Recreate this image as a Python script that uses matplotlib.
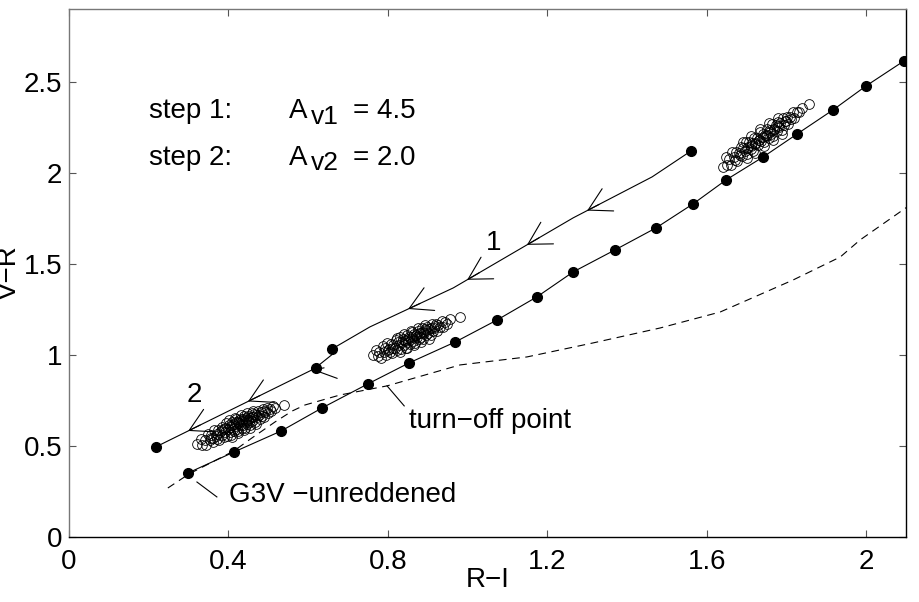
import matplotlib
matplotlib.use('Agg')
import matplotlib.pyplot as plt
import numpy as np

plt.rcParams['font.family'] = ['Liberation Sans', 'DejaVu Sans']

# unreddened G3V -> later sequence (filled dots)
seq_x = [0.299, 0.414, 0.532, 0.635, 0.750, 0.853, 0.969, 1.074, 1.174, 1.265,
         1.370, 1.473, 1.566, 1.649, 1.742, 1.827, 1.917, 2.000, 2.095]
seq_y = [0.352, 0.467, 0.582, 0.709, 0.841, 0.956, 1.071, 1.192, 1.319, 1.456,
         1.577, 1.698, 1.830, 1.962, 2.088, 2.214, 2.346, 2.478, 2.615]

# isochrone (dashed)
iso_x = [0.248, 0.301, 0.414, 0.459, 0.517, 0.560, 0.592, 0.680, 0.798, 0.981,
         1.149, 1.315, 1.483, 1.634, 1.817, 1.935, 1.985, 2.103]
iso_y = [0.269, 0.346, 0.473, 0.544, 0.632, 0.692, 0.725, 0.780, 0.830, 0.945,
         0.989, 1.066, 1.148, 1.236, 1.412, 1.538, 1.632, 1.813]

# reddening tracks
track1_x = [0.660, 0.755, 0.964, 1.265, 1.463, 1.561]
track1_y = [1.033, 1.154, 1.368, 1.753, 1.978, 2.121]
track2_x = [0.218, 0.620]
track2_y = [0.495, 0.929]
arrows1_x = [1.300, 1.149, 0.999, 0.851]
arrows2_x = [0.610, 0.449, 0.299]

# observed clusters (open circles)
c1_x = [0.321, 0.330, 0.334, 0.340, 0.344, 0.349, 0.353, 0.357, 0.361, 0.364,
        0.368, 0.371, 0.374, 0.377, 0.380, 0.383, 0.385, 0.388, 0.390, 0.392,
        0.395, 0.397, 0.399, 0.401, 0.403, 0.405, 0.407, 0.409, 0.411, 0.413,
        0.415, 0.417, 0.419, 0.421, 0.423, 0.425, 0.427, 0.429, 0.431, 0.433,
        0.435, 0.437, 0.439, 0.441, 0.443, 0.445, 0.447, 0.449, 0.451, 0.453,
        0.455, 0.458, 0.460, 0.462, 0.465, 0.467, 0.470, 0.472, 0.475, 0.478,
        0.481, 0.484, 0.487, 0.490, 0.493, 0.497, 0.500, 0.504, 0.508, 0.513,
        0.518, 0.540,
        0.402, 0.408, 0.416, 0.424, 0.432, 0.440, 0.446, 0.454, 0.462, 0.470,
        0.426, 0.436, 0.444, 0.450, 0.458, 0.418, 0.410, 0.392, 0.384, 0.476,
        0.488, 0.372, 0.362, 0.356]
c1_y = [0.510, 0.539, 0.508, 0.534, 0.505, 0.568, 0.534, 0.561, 0.520, 0.588,
        0.557, 0.540, 0.585, 0.531, 0.577, 0.560, 0.604, 0.551, 0.594, 0.577,
        0.624, 0.554, 0.592, 0.614, 0.574, 0.604, 0.560, 0.630, 0.592, 0.620,
        0.580, 0.609, 0.646, 0.595, 0.634, 0.584, 0.624, 0.614, 0.650, 0.600,
        0.638, 0.616, 0.664, 0.598, 0.634, 0.654, 0.620, 0.666, 0.634, 0.654,
        0.616, 0.681, 0.637, 0.657, 0.678, 0.634, 0.669, 0.657, 0.694, 0.649,
        0.686, 0.665, 0.702, 0.659, 0.688, 0.708, 0.679, 0.705, 0.693, 0.720,
        0.711, 0.725,
        0.640, 0.548, 0.655, 0.572, 0.672, 0.585, 0.680, 0.600, 0.690, 0.618,
        0.640, 0.650, 0.645, 0.640, 0.660, 0.630, 0.615, 0.600, 0.585, 0.672,
        0.690, 0.565, 0.545, 0.545]

c2_x = [0.763, 0.770, 0.774, 0.779, 0.783, 0.787, 0.790, 0.793, 0.796, 0.799,
        0.802, 0.805, 0.808, 0.811, 0.814, 0.817, 0.820, 0.822, 0.825, 0.827,
        0.830, 0.832, 0.835, 0.837, 0.840, 0.842, 0.845, 0.847, 0.850, 0.852,
        0.855, 0.857, 0.860, 0.862, 0.865, 0.867, 0.870, 0.872, 0.875, 0.877,
        0.880, 0.882, 0.885, 0.887, 0.890, 0.892, 0.895, 0.898, 0.901, 0.904,
        0.907, 0.910, 0.913, 0.916, 0.920, 0.923, 0.927, 0.931, 0.935, 0.939,
        0.944, 0.949, 0.955, 0.981,
        0.822, 0.830, 0.840, 0.848, 0.858, 0.866, 0.876, 0.884, 0.894, 0.902,
        0.860, 0.870, 0.880, 0.888, 0.896, 0.850, 0.842, 0.908, 0.918, 0.812,
        0.800]
c2_y = [1.000, 1.027, 0.993, 1.018, 0.984, 1.050, 1.016, 1.040, 1.002, 1.066,
        1.033, 1.018, 1.061, 1.008, 1.053, 1.037, 1.080, 1.026, 1.069, 1.053,
        1.098, 1.030, 1.069, 1.089, 1.054, 1.082, 1.039, 1.107, 1.072, 1.098,
        1.062, 1.088, 1.125, 1.077, 1.114, 1.066, 1.107, 1.097, 1.134, 1.086,
        1.121, 1.101, 1.148, 1.086, 1.121, 1.141, 1.108, 1.154, 1.123, 1.144,
        1.109, 1.170, 1.131, 1.150, 1.172, 1.131, 1.165, 1.155, 1.189, 1.152,
        1.183, 1.170, 1.198, 1.209,
        1.095, 1.018, 1.115, 1.040, 1.130, 1.055, 1.150, 1.072, 1.165, 1.090,
        1.100, 1.110, 1.118, 1.128, 1.135, 1.085, 1.075, 1.150, 1.160, 1.040,
        1.025]

c3_x = [1.641, 1.648, 1.652, 1.657, 1.661, 1.664, 1.668, 1.671, 1.674, 1.677,
        1.680, 1.683, 1.686, 1.689, 1.692, 1.695, 1.698, 1.701, 1.704, 1.707,
        1.710, 1.713, 1.716, 1.719, 1.722, 1.725, 1.728, 1.731, 1.734, 1.737,
        1.740, 1.743, 1.746, 1.749, 1.752, 1.755, 1.758, 1.761, 1.764, 1.767,
        1.770, 1.773, 1.776, 1.779, 1.782, 1.785, 1.788, 1.791, 1.794, 1.797,
        1.801, 1.804, 1.808, 1.812, 1.816, 1.820, 1.826, 1.832, 1.838, 1.857,
        1.690, 1.700, 1.712, 1.722, 1.734, 1.744, 1.756, 1.766, 1.778, 1.790,
        1.730, 1.740, 1.750, 1.760, 1.770, 1.720, 1.710, 1.780, 1.800, 1.700]
c3_y = [2.033, 2.085, 2.046, 2.078, 2.044, 2.114, 2.085, 2.068, 2.116, 2.063,
        2.111, 2.096, 2.144, 2.091, 2.135, 2.122, 2.170, 2.103, 2.143, 2.168,
        2.130, 2.163, 2.121, 2.194, 2.158, 2.189, 2.151, 2.183, 2.222, 2.174,
        2.215, 2.168, 2.210, 2.203, 2.242, 2.194, 2.235, 2.215, 2.266, 2.202,
        2.241, 2.263, 2.232, 2.280, 2.251, 2.273, 2.238, 2.304, 2.263, 2.285,
        2.309, 2.270, 2.306, 2.298, 2.334, 2.302, 2.335, 2.332, 2.359, 2.379,
        2.170, 2.080, 2.205, 2.110, 2.240, 2.145, 2.272, 2.180, 2.300, 2.215,
        2.180, 2.195, 2.210, 2.225, 2.240, 2.165, 2.150, 2.255, 2.285, 2.135]

xticks = [0, 0.4, 0.8, 1.2, 1.6, 2.0]
xticklabels = ['0', '0.4', '0.8', '1.2', '1.6', '2']
yticks = [0, 0.5, 1.0, 1.5, 2.0, 2.5]
yticklabels = ['0', '0.5', '1', '1.5', '2', '2.5']

fs = 20
lw = 0.8

fig = plt.figure(figsize=(9.2, 6.02), dpi=100)
ax = fig.add_axes([0.075, 0.108, 0.9098, 0.877])

ax.plot(iso_x, iso_y, color='k', lw=lw, dashes=[7, 5])
ax.plot(seq_x, seq_y, 'k-', lw=lw, marker='o', ms=7, mfc='k', mec='k')
ax.plot(track1_x, track1_y, 'k-', lw=lw)
ax.plot([track1_x[0], track1_x[-1]], [track1_y[0], track1_y[-1]], 'ko', ms=7)
ax.plot(track2_x, track2_y, 'k-', lw=lw)
ax.plot(track2_x, track2_y, 'ko', ms=7)

# open arrowheads pointing down-left along the tracks
for tx_list, trx, tryy in [(arrows1_x, track1_x, track1_y),
                           (arrows2_x, track2_x, track2_y)]:
    for tx in tx_list:
        ty = np.interp(tx, trx, tryy)
        sx = tx + 0.03
        sy = np.interp(sx, trx, tryy)
        ax.annotate('', xy=(tx, ty), xytext=(sx, sy),
                    arrowprops=dict(arrowstyle='->,head_length=0.8,head_width=0.45',
                                    lw=lw, color='k', shrinkA=0, shrinkB=0,
                                    mutation_scale=20))

for cx, cy in [(c1_x, c1_y), (c2_x, c2_y), (c3_x, c3_y)]:
    ax.plot(cx, cy, 'o', ms=7, mfc='none', mec='k', mew=0.6, ls='none')

# labels
ax.text(0.2, 2.302, 'step 1:', fontsize=fs, va='baseline')
ax.text(0.2, 2.044, 'step 2:', fontsize=fs, va='baseline')
ax.text(0.552, 2.302, 'A', fontsize=fs, va='baseline')
ax.text(0.606, 2.269, 'v1', fontsize=fs - 1, va='baseline')
ax.text(0.713, 2.302, '= 4.5', fontsize=fs, va='baseline')
ax.text(0.552, 2.044, 'A', fontsize=fs, va='baseline')
ax.text(0.606, 2.014, 'v2', fontsize=fs - 1, va='baseline')
ax.text(0.713, 2.044, '= 2.0', fontsize=fs, va='baseline')
ax.text(1.045, 1.577, '1', fontsize=fs, va='baseline')
ax.text(0.295, 0.742, '2', fontsize=fs, va='baseline')

ax.plot([0.798, 0.841], [0.830, 0.720], 'k-', lw=lw)
ax.text(0.853, 0.599, 'turn\u2212off point', fontsize=fs, va='baseline')
ax.plot([0.321, 0.371], [0.302, 0.220], 'k-', lw=lw)
ax.text(0.401, 0.192, 'G3V \u2212unreddened', fontsize=fs, va='baseline')

ax.set_xlim(0, 2.1)
ax.set_ylim(0, 2.9)
ax.set_xticks(xticks)
ax.set_xticklabels(xticklabels)
ax.set_yticks(yticks)
ax.set_yticklabels(yticklabels)
ax.tick_params(direction='in', length=5, width=0.8, labelsize=fs,
               top=True, right=True, color='#555555')
ax.tick_params(axis='x', pad=9)
ax.tick_params(axis='y', pad=5)
ax.set_xlabel('R\u2212I', fontsize=fs, labelpad=-6)
ax.set_ylabel('V\u2212R', fontsize=fs)
ax.yaxis.set_label_coords(-0.056, 0.5)
for side in ['left', 'top']:
    ax.spines[side].set_color('#777777')
for side in ['bottom', 'right']:
    ax.spines[side].set_color('k')
for s in ax.spines.values():
    s.set_linewidth(1.0)

fig.savefig('out.png', dpi=100)
